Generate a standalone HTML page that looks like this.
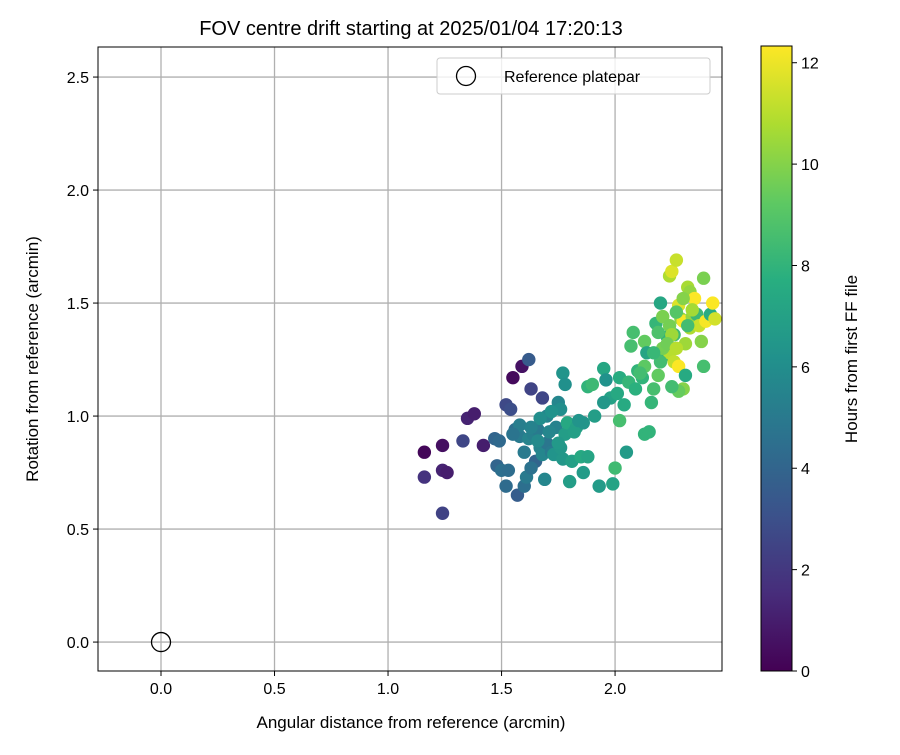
<!DOCTYPE html>
<html><head><meta charset="utf-8"><style>
body{margin:0;background:#fff;font-family:"Liberation Sans","DejaVu Sans",sans-serif}
</style></head><body>
<svg id="chart" width="900" height="750" xmlns="http://www.w3.org/2000/svg" font-family="Liberation Sans, DejaVu Sans, sans-serif">
<defs>
<linearGradient id="vir" x1="0" y1="1" x2="0" y2="0">
<stop offset="0" stop-color="#440154"/><stop offset="0.125" stop-color="#472d7b"/><stop offset="0.25" stop-color="#3b528b"/><stop offset="0.375" stop-color="#2c728e"/><stop offset="0.5" stop-color="#21918c"/><stop offset="0.625" stop-color="#28ae80"/><stop offset="0.75" stop-color="#5ec962"/><stop offset="0.875" stop-color="#addc30"/><stop offset="1" stop-color="#fde725"/>
</linearGradient>
<clipPath id="clip"><rect x="98" y="47" width="624" height="624"/></clipPath>
</defs>
<text x="411" y="35" font-size="20" text-anchor="middle">FOV centre drift starting at 2025/01/04 17:20:13</text>
<g id="grid"></g>
<g id="points" clip-path="url(#clip)"></g>
<rect x="98" y="47" width="624" height="624" fill="none" stroke="#000" stroke-width="1"/>
<g id="axes"></g>
<text x="411" y="728" font-size="17" text-anchor="middle">Angular distance from reference (arcmin)</text>
<text transform="translate(38,359) rotate(-90)" font-size="17" text-anchor="middle">Rotation from reference (arcmin)</text>
<g>
<rect x="437" y="58" width="273" height="36" rx="3" fill="#fff" fill-opacity="0.8" stroke="#ccc"/>
<circle cx="466" cy="76" r="9.5" fill="none" stroke="#000" stroke-width="1.3"/>
<text x="504" y="82" font-size="16">Reference platepar</text>
</g>
<rect x="761" y="46" width="31" height="625" fill="url(#vir)" stroke="#000" stroke-width="1"/>
<g id="cbar"></g>
<text transform="translate(857,359) rotate(-90)" font-size="17" text-anchor="middle">Hours from first FF file</text>
</svg>
<script>
const xTicks=[0.0,0.5,1.0,1.5,2.0];
const yTicks=[0.0,0.5,1.0,1.5,2.0,2.5];
const cTicks=[0,2,4,6,8,10,12];
const xs=[1.16,1.16,1.24,1.24,1.26,1.24,1.33,1.35,1.38,1.42,1.55,1.59,1.62,1.63,1.68,1.52,1.54,1.47,1.49,1.48,1.50,1.52,1.53,1.57,1.60,1.61,1.56,1.58,1.60,1.62,1.64,1.66,1.67,1.65,1.68,1.70,1.72,1.69,1.74,1.75,1.76,1.77,1.78,1.70,1.72,1.67,1.73,1.77,1.76,1.78,1.80,1.81,1.79,1.83,1.85,1.86,1.88,1.86,1.91,1.88,1.90,1.93,1.95,1.96,1.98,1.95,1.99,2.00,2.02,2.02,2.04,2.05,2.06,2.07,2.08,2.10,2.12,2.13,2.13,2.13,2.15,2.16,2.17,2.18,2.19,2.20,2.21,2.22,2.23,2.24,2.25,2.24,2.26,2.26,2.27,2.28,2.29,2.30,2.31,2.32,2.33,2.33,2.34,2.35,2.36,2.37,2.38,2.39,2.39,2.40,2.42,2.43,2.44,2.24,2.28,2.30,2.28,2.25,2.21,2.20,2.11,2.14,2.25,2.31,2.32,2.27,2.30,1.58,1.63,1.66,1.71,1.75,1.63,1.55,1.82,1.84,2.17,2.23,2.34,2.19,2.27,2.09,2.01];
const ys=[0.84,0.73,0.87,0.76,0.75,0.57,0.89,0.99,1.01,0.87,1.17,1.22,1.25,1.12,1.08,1.05,1.03,0.90,0.89,0.78,0.76,0.69,0.76,0.65,0.69,0.73,0.94,0.91,0.84,0.90,0.92,0.94,0.86,0.80,0.83,0.88,0.84,0.72,0.95,1.06,1.03,1.19,1.14,1.00,1.02,0.99,0.83,0.81,0.86,0.92,0.71,0.80,0.97,0.95,0.82,0.75,0.82,0.97,1.00,1.13,1.14,0.69,1.21,1.16,1.08,1.06,0.70,0.77,0.98,1.17,1.05,0.84,1.15,1.31,1.37,1.20,1.17,1.33,1.22,0.92,0.93,1.06,1.12,1.41,1.18,1.50,1.44,1.27,1.35,1.62,1.64,1.28,1.36,1.24,1.69,1.49,1.43,1.42,1.32,1.57,1.55,1.39,1.44,1.52,1.45,1.40,1.33,1.61,1.22,1.42,1.45,1.50,1.43,1.40,1.22,1.12,1.11,1.36,1.30,1.24,1.19,1.28,1.13,1.18,1.40,1.46,1.52,0.96,0.95,0.89,0.93,0.88,0.77,0.92,0.93,0.98,1.28,1.32,1.47,1.37,1.30,1.12,1.10];
const hours=[0.2,1.8,0.5,1.2,1.0,2.4,2.6,1.2,1.0,1.0,0.3,0.6,3.5,2.5,2.6,2.7,2.9,4.0,4.2,4.0,4.5,4.3,4.4,3.6,4.5,5.0,4.5,5.0,5.0,5.5,5.3,5.0,5.5,4.0,5.6,4.8,5.0,5.6,5.4,5.6,6.0,6.3,6.1,5.5,6.2,6.0,6.3,6.5,6.5,6.8,6.8,6.9,7.4,7.0,7.4,6.7,7.2,6.4,6.8,8.0,8.3,6.7,7.3,6.2,7.0,6.5,7.1,8.4,8.6,7.6,7.5,6.7,8.1,8.6,8.6,8.0,8.0,9.3,9.2,8.0,8.0,8.1,8.6,8.1,9.3,7.3,9.8,8.0,8.0,10.8,11.7,11.0,8.4,11.2,11.3,11.7,10.1,12.2,10.5,10.7,10.3,10.8,10.3,12.3,8.3,11.3,10.0,9.8,8.6,12.2,7.6,12.3,11.5,9.7,12.3,10.0,9.4,10.5,9.7,8.5,8.5,7.2,8.5,7.5,8.5,9.0,10.0,5.2,5.4,5.8,5.6,6.6,4.6,4.7,6.9,6.3,8.2,9.6,10.6,8.8,11.0,7.8,7.4];
const X0=98,X1=722,Y0=671,Y1=47,xmin=-0.2775,xmax=2.471,ymin=-0.128,ymax=2.633,cmax=12.33;
const sx=v=>X0+(v-xmin)/(xmax-xmin)*(X1-X0);
const sy=v=>Y0-(v-ymin)/(ymax-ymin)*(Y0-Y1);
const sc=v=>671-v/cmax*625;
const vir=[[68,1,84],[71,45,123],[59,82,139],[44,114,142],[33,145,140],[40,174,128],[94,201,98],[173,220,48],[253,231,37]];
function col(t){t=Math.max(0,Math.min(1,t))*8;const i=Math.min(7,Math.floor(t)),f=t-i;const a=vir[i],b=vir[i+1];return `rgb(${a.map((c,k)=>Math.round(c+(b[k]-c)*f)).join(',')})`;}
const NS='http://www.w3.org/2000/svg';
function mk(tag,attrs,parent){const e=document.createElementNS(NS,tag);for(const k in attrs)e.setAttribute(k,attrs[k]);parent.appendChild(e);return e;}
const grid=document.getElementById('grid'),axes=document.getElementById('axes'),pts=document.getElementById('points'),cb=document.getElementById('cbar');
xTicks.forEach(v=>{const x=sx(v);
const g=mk('line',{x1:x,x2:x,y1:Y1,y2:Y0,stroke:'#b0b0b0','stroke-width':1.3},grid);


mk('line',{x1:x,x2:x,y1:Y0,y2:Y0+5,stroke:'#000'},axes);
const t=mk('text',{x:x,y:Y0+23,'font-size':16,'text-anchor':'middle'},axes);t.textContent=v.toFixed(1);

});
yTicks.forEach(v=>{const y=sy(v);
const g=mk('line',{x1:X0,x2:X1,y1:y,y2:y,stroke:'#b0b0b0','stroke-width':1.3},grid);


mk('line',{x1:X0-5,x2:X0,y1:y,y2:y,stroke:'#000'},axes);
const t=mk('text',{x:X0-9,y:y+6,'font-size':16,'text-anchor':'end'},axes);t.textContent=v.toFixed(1);

});
cTicks.forEach(v=>{const y=sc(v);
mk('line',{x1:792,x2:797,y1:y,y2:y,stroke:'#000'},cb);
const t=mk('text',{x:801,y:y+6,'font-size':16},cb);t.textContent=v;

});
xs.forEach((x,i)=>{const c=mk('circle',{cx:sx(x),cy:sy(ys[i]),r:6.7,fill:col(hours[i]/cmax)},pts);

});
const r=mk('circle',{cx:sx(0),cy:sy(0),r:9.5,fill:'none',stroke:'#000','stroke-width':1.3},pts);


</script>
</body></html>
